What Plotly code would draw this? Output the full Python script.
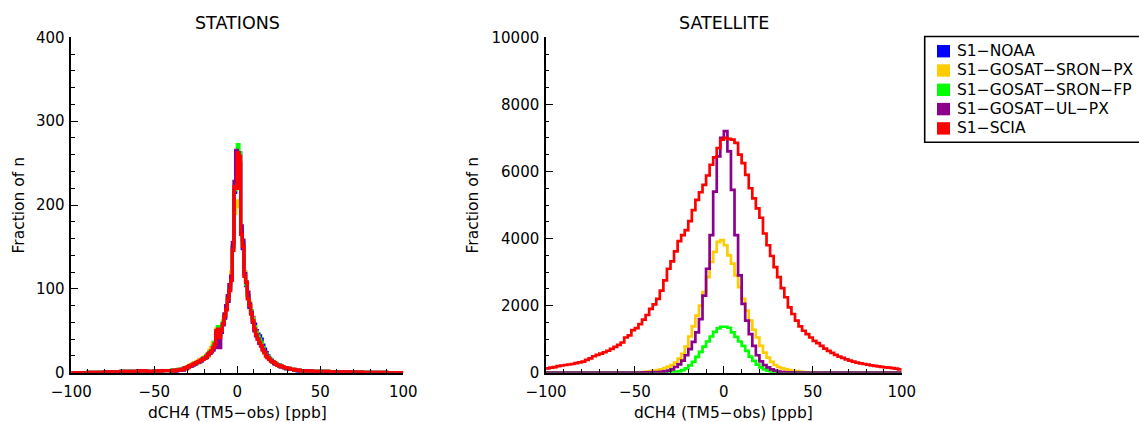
import plotly.graph_objects as go

# ---------------------------------------------------------------------------
# Histogram data: dCH4 = TM5 - obs  [ppb]
# ---------------------------------------------------------------------------
SERIES_NAMES = ["S1-NOAA", "S1-GOSAT-SRON-PX", "S1-GOSAT-SRON-FP",
                "S1-GOSAT-UL-PX", "S1-SCIA"]
SERIES_LABELS = [n.replace("-", "\u2212") for n in SERIES_NAMES]
SERIES_COLORS = ["#0000FF", "#FFCC00", "#00FF00", "#8C008C", "#FF0000"]

# Station histograms: 5 ppb bins in the tails, 1 ppb bins in the core
STATION_EDGES = list(range(-100, -40, 5)) + list(range(-40, 40)) + list(range(40, 101, 5))
STN_TAIL_LEFT = [0, 0, 0.3, 0.5, 1, 1, 1.5, 1.5, 2, 1.5, 2, 2.5]
STN_TAIL_RIGHT = [2, 1.5, 1.5, 1, 1, 1, 0.8, 0.5, 0.5, 0.3, 0, 0]

STN_NOAA = [2, 2, 3, 2, 3, 3, 4, 3,
            5, 6, 6, 8, 9, 9, 11, 12, 12, 15, 14, 17, 18, 18, 22, 23, 27, 29, 36, 46,
            50, 45, 48, 57, 65, 78, 85, 100, 112, 150, 215, 225,
            255, 262, 170, 148, 120, 104, 92, 78, 72, 66, 58, 50, 46, 44, 40, 33, 28, 24, 20, 17,
            15, 13, 11, 10, 9, 9, 7, 7, 6, 5, 5, 4, 4, 4, 3, 3, 2, 2, 2, 2]
STN_SRON_PX = [2, 3, 3, 3, 4, 4, 4, 5,
               6, 7, 7, 9, 10, 11, 12, 13, 14, 16, 16, 18, 19, 21, 23, 27, 30, 36, 36, 52,
               50, 46, 52, 62, 70, 80, 92, 105, 120, 150, 190, 200,
               205, 198, 168, 152, 120, 106, 90, 84, 74, 65, 55, 48, 42, 38, 34, 28, 23, 19, 18, 16,
               14, 13, 12, 10, 9, 8, 8, 7, 6, 6, 5, 5, 4, 4, 4, 3, 3, 3, 2, 2]
STN_SRON_FP = [3, 2, 3, 3, 4, 3, 4, 5,
               5, 6, 7, 8, 8, 10, 11, 11, 13, 13, 15, 16, 18, 20, 20, 25, 25, 32, 36, 48,
               55, 44, 52, 60, 68, 78, 90, 102, 112, 150, 218, 230,
               272, 262, 172, 155, 118, 105, 92, 82, 74, 64, 55, 48, 44, 40, 36, 30, 25, 22, 19, 17,
               15, 13, 12, 11, 9, 9, 8, 7, 6, 6, 5, 5, 4, 4, 3, 3, 3, 3, 2, 2]
STN_UL_PX = [2, 2, 2, 3, 3, 3, 4, 4,
             5, 5, 7, 8, 8, 10, 10, 12, 13, 13, 15, 17, 17, 19, 22, 23, 25, 27, 30, 48,
             45, 30, 50, 58, 70, 80, 92, 105, 115, 155, 228, 265,
             262, 250, 175, 158, 118, 108, 96, 82, 72, 60, 50, 44, 40, 35, 32, 28, 25, 21, 18, 16,
             14, 13, 11, 10, 9, 8, 7, 7, 6, 5, 5, 4, 4, 4, 3, 3, 3, 2, 2, 2]
STN_SCIA = [2, 3, 2, 3, 3, 4, 3, 4,
            6, 5, 7, 8, 9, 10, 11, 12, 13, 14, 15, 16, 17, 19, 21, 24, 26, 30, 34, 50,
            52, 42, 50, 58, 67, 75, 87, 98, 110, 146, 222, 220,
            262, 258, 165, 150, 115, 108, 88, 80, 70, 62, 52, 45, 40, 36, 32, 27, 24, 20, 18, 16,
            14, 13, 12, 10, 9, 8, 8, 7, 6, 6, 5, 5, 4, 4, 4, 3, 3, 3, 2, 2]

# Satellite histograms: 2 ppb bins from -100 to 100
SATELLITE_EDGES = list(range(-100, 101, 2))
SAT_SRON_PX = [0, 0, 0, 0, 0, 0, 0, 0, 0, 0,
               0, 0, 0, 0, 0, 0, 1, 1, 2, 2,
               2, 3, 4, 5, 7, 10, 15, 20, 30, 45,
               60, 80, 100, 140, 180, 230, 300, 420, 560, 780,
               1080, 1380, 1700, 2000, 2400, 2850, 3300, 3600, 3900, 3950,
               3800, 3500, 3250, 2900, 2550, 2200, 1850, 1550, 1280, 1050,
               800, 600, 450, 320, 230, 170, 130, 100, 80, 60,
               45, 30, 20, 12, 8, 5, 4, 3, 2, 2,
               1, 1, 1, 0, 0, 0, 0, 0, 0, 0,
               0, 0, 0, 0, 0, 0, 0, 0, 0, 0]
SAT_SRON_FP = [0, 0, 0, 0, 0, 0, 0, 0, 0, 0,
               0, 0, 0, 0, 0, 0, 0, 0, 0, 0,
               0, 0, 0, 0, 0, 1, 1, 2, 3, 4,
               2, 3, 4, 6, 10, 16, 25, 42, 75, 130,
               220, 320, 470, 620, 780, 930, 1080, 1220, 1320, 1370,
               1370, 1340, 1200, 1070, 930, 800, 650, 480, 350, 240,
               160, 100, 60, 35, 20, 12, 8, 5, 3, 2,
               1, 1, 0, 0, 0, 0, 0, 0, 0, 0,
               0, 0, 0, 0, 0, 0, 0, 0, 0, 0,
               0, 0, 0, 0, 0, 0, 0, 0, 0, 0]
SAT_UL_PX = [0, 0, 0, 0, 0, 0, 0, 0, 0, 0,
             0, 0, 0, 0, 0, 0, 0, 0, 0, 0,
             1, 1, 2, 2, 3, 4, 5, 7, 9, 12,
             15, 20, 28, 40, 60, 100, 170, 250, 360, 520,
             700, 920, 1200, 1600, 2300, 3100, 4100, 5400, 6450, 7000,
             7200, 6600, 5450, 4100, 2900, 2050, 1550, 1150, 800, 520,
             340, 230, 160, 100, 60, 35, 20, 12, 8, 5,
             3, 2, 2, 1, 1, 0, 0, 0, 0, 0,
             0, 0, 0, 0, 0, 0, 0, 0, 0, 0,
             0, 0, 0, 0, 0, 0, 0, 0, 0, 0]
SAT_SCIA = [130, 150, 165, 195, 215, 230, 245, 260, 285, 305,
            330, 380, 430, 490, 530, 570, 610, 655, 710, 770,
            830, 900, 1050, 1110, 1270, 1330, 1450, 1580, 1720, 1900,
            2040, 2200, 2450, 2750, 3100, 3320, 3620, 3920, 4100, 4250,
            4520, 4850, 5150, 5380, 5600, 5880, 6200, 6420, 6700, 6950,
            7000, 6970, 6950, 6850, 6500, 6250, 5900, 5500, 5200, 4900,
            4620, 4150, 3800, 3480, 3150, 2850, 2520, 2250, 1950, 1750,
            1550, 1380, 1250, 1150, 1050, 950, 880, 800, 720, 650,
            590, 530, 480, 440, 400, 360, 330, 300, 280, 260,
            240, 220, 205, 190, 175, 160, 150, 135, 120, 100]

STATION_SERIES = [STN_NOAA, STN_SRON_PX, STN_SRON_FP, STN_UL_PX, STN_SCIA]
SATELLITE_SERIES = [None, SAT_SRON_PX, SAT_SRON_FP, SAT_UL_PX, SAT_SCIA]

PANEL_TITLES = ["STATIONS", "SATELLITE"]
X_TITLE = "dCH4 (TM5\u2212obs) [ppb]"
Y_TITLE = "Fraction of n"

# ---------------------------------------------------------------------------
W, H = 1139, 422
FONT = "DejaVu Sans"


def fx(p):
    return p / W


def fy(p):
    return 1 - p / H


def step_xy(edges, values):
    # "hv" steps drawn on bin edges; the last value is repeated to close the final bin
    return edges, list(values) + [values[-1]]


fig = go.Figure()

for name, color, core in zip(SERIES_NAMES, SERIES_COLORS, STATION_SERIES):
    vals = STN_TAIL_LEFT + core + STN_TAIL_RIGHT
    x, y = step_xy(STATION_EDGES, vals)
    fig.add_trace(go.Scatter(x=x, y=y, mode="lines", line=dict(color=color, width=3.3, shape="hv"),
                             name=name, showlegend=False, xaxis="x", yaxis="y"))

for name, color, vals in zip(SERIES_NAMES, SERIES_COLORS, SATELLITE_SERIES):
    if vals is None:
        continue
    x, y = step_xy(SATELLITE_EDGES, vals)
    fig.add_trace(go.Scatter(x=x, y=y, mode="lines", line=dict(color=color, width=2.7, shape="hv"),
                             name=name, showlegend=False, xaxis="x3", yaxis="y3"))

axis_common = dict(
    showline=True, linecolor="black", linewidth=1.5,
    ticks="inside", ticklen=7, tickwidth=1.2, tickcolor="black",
    showgrid=False, zeroline=False,
    tickfont=dict(family=FONT, size=15, color="black"),
)
minor_common = dict(ticks="inside", ticklen=3.5, tickwidth=1, tickcolor="black", showgrid=False)

y_dom = [fy(372.7), fy(37.3)]

panels = [
    # (x domain in px, y range, y major step, y minor step, y-title centre x in px)
    ((71.3, 403.3), [0, 400], 100, 20, 18.5),
    ((546.0, 901.7), [0, 10000], 2000, 500, 472.5),
]

layout = dict(
    width=W, height=H, autosize=False,
    margin=dict(l=0, r=0, t=0, b=0, autoexpand=False),
    paper_bgcolor="white", plot_bgcolor="white",
    showlegend=False,
)
for i, ((x0, x1), yrange, ymaj, ymin, _) in enumerate(panels):
    k = 1 + 2 * i            # main axes: x/y and x3/y3 ; frame axes: x2/y2 and x4/y4
    ax_main = "" if k == 1 else str(k)
    ax_top = str(k + 1)
    main_x, main_y = "x" + ax_main, "y" + ax_main
    xdom = [fx(x0), fx(x1)]
    layout["xaxis" + ax_main] = dict(
        axis_common, domain=xdom, range=[-100, 100], dtick=50,
        minor=dict(minor_common, dtick=10), anchor=main_y, ticklabelstandoff=5)
    layout["yaxis" + ax_main] = dict(
        axis_common, domain=y_dom, range=yrange, dtick=ymaj, tickformat="d",
        minor=dict(minor_common, dtick=ymin), anchor=main_x, ticklabelstandoff=2)
    # top / right frame with the same inside ticks, no labels
    layout["xaxis" + ax_top] = dict(
        axis_common, domain=xdom, range=[-100, 100], dtick=50, side="top",
        minor=dict(minor_common, dtick=10), anchor="y" + ax_top, overlaying=main_x,
        showticklabels=False)
    layout["yaxis" + ax_top] = dict(
        axis_common, domain=y_dom, range=yrange, dtick=ymaj, side="right",
        minor=dict(minor_common, dtick=ymin), anchor="x" + ax_top, overlaying=main_y,
        showticklabels=False)
fig.update_layout(**layout)

# Panel titles and axis titles
for title, ((x0, x1), _, _, _, ytx) in zip(PANEL_TITLES, panels):
    xc = (x0 + x1) / 2
    fig.add_annotation(text=title, x=fx(xc), y=fy(22.5), xref="paper", yref="paper",
                       xanchor="center", yanchor="middle", showarrow=False,
                       font=dict(family=FONT, size=17.5, color="black"))
    fig.add_annotation(text=X_TITLE, x=fx(xc), y=fy(413), xref="paper", yref="paper",
                       xanchor="center", yanchor="middle", showarrow=False, borderpad=0,
                       font=dict(family=FONT, size=15.5, color="black"))
    fig.add_annotation(text=Y_TITLE, x=fx(ytx), y=fy(205), xref="paper", yref="paper",
                       xanchor="center", yanchor="middle", showarrow=False, textangle=-90,
                       font=dict(family=FONT, size=15.5, color="black"))

# Legend box with filled colour squares
fig.add_shape(type="rect", xref="paper", yref="paper",
              x0=fx(924.7), x1=fx(1150), y0=fy(142.3), y1=fy(36.5),
              line=dict(color="black", width=1.6), fillcolor="rgba(0,0,0,0)")
for i, (label, color) in enumerate(zip(SERIES_LABELS, SERIES_COLORS)):
    yc = 51.2 + 19.3 * i
    fig.add_shape(type="rect", xref="paper", yref="paper",
                  x0=fx(937), x1=fx(950), y0=fy(yc + 6.2), y1=fy(yc - 6.2),
                  line=dict(width=0), fillcolor=color)
    fig.add_annotation(text=label, x=fx(955), y=fy(yc), xref="paper", yref="paper",
                       xanchor="left", yanchor="middle", showarrow=False,
                       font=dict(family=FONT, size=15.5, color="black"))

fig.write_html("out.html")
